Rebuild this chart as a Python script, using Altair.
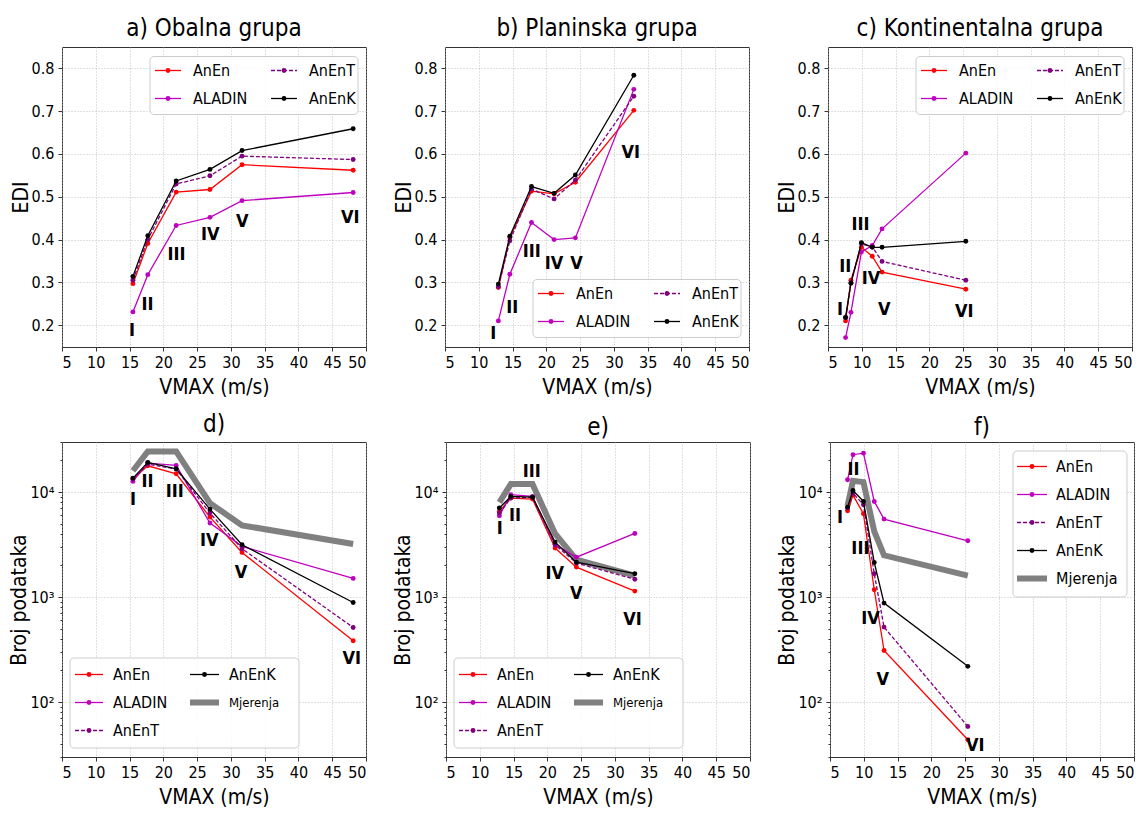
import altair as alt
import pandas as pd

FONT = "DejaVu Sans Condensed, Liberation Sans Narrow, DejaVu Sans"

roman = ["I", "II", "III", "IV", "V", "VI"]

vmax_obalna = [15.5, 17.7, 21.9, 26.9, 31.65, 48.1]
vmax_planinska = [12.9, 14.6, 17.8, 21.15, 24.3, 32.95]
vmax_kontinentalna = [7.6, 8.4, 9.95, 11.55, 13.0, 25.4]

edi_obalna = {
    "AnEn": [0.297, 0.391, 0.511, 0.517, 0.575, 0.562],
    "ALADIN": [0.231, 0.318, 0.433, 0.452, 0.491, 0.510],
    "AnEnT": [0.305, 0.400, 0.530, 0.549, 0.595, 0.587],
    "AnEnK": [0.314, 0.409, 0.537, 0.564, 0.608, 0.659],
}
edi_planinska = {
    "AnEn": [0.288, 0.405, 0.513, 0.507, 0.534, 0.702],
    "ALADIN": [0.210, 0.319, 0.440, 0.400, 0.404, 0.751],
    "AnEnT": [0.290, 0.397, 0.518, 0.495, 0.539, 0.735],
    "AnEnK": [0.296, 0.408, 0.524, 0.508, 0.551, 0.784],
}
edi_kontinentalna = {
    "AnEn": [0.210, 0.305, 0.382, 0.361, 0.324, 0.284],
    "ALADIN": [0.171, 0.230, 0.371, 0.386, 0.425, 0.602],
    "AnEnT": [0.218, 0.300, 0.390, 0.383, 0.349, 0.305],
    "AnEnK": [0.218, 0.298, 0.393, 0.382, 0.382, 0.396],
}

broj_obalna = {
    "Mjerenja": [15960, 24400, 24400, 7850, 4820, 3200],
    "AnEn": [13300, 17800, 14950, 5780, 2660, 384],
    "ALADIN": [12640, 18900, 17950, 5070, 3040, 1507],
    "AnEnT": [13300, 18500, 16560, 6310, 2890, 514],
    "AnEnK": [13600, 19200, 16680, 6890, 3150, 889],
}
broj_planinska = {
    "Mjerenja": [7980, 11920, 11920, 4010, 2270, 1600],
    "AnEn": [6550, 8770, 8580, 2930, 1930, 1140],
    "ALADIN": [5960, 9440, 9100, 3150, 2400, 4040],
    "AnEnT": [6310, 8770, 8920, 3150, 2110, 1480],
    "AnEnK": [7050, 9100, 8960, 3340, 2150, 1670],
}
broj_kontinentalna = {
    "Mjerenja": [7410, 12820, 12450, 4220, 2500, 1600],
    "AnEn": [6640, 9360, 6220, 1175, 310, 43.8],
    "ALADIN": [13100, 22700, 23500, 8150, 5530, 3440],
    "AnEnT": [7050, 9780, 7570, 1670, 518, 58.6],
    "AnEnK": [7200, 10370, 8150, 2140, 877, 219],
}

# positions of the roman-numeral labels (data coordinates)
ann_a = ([15.36, 17.67, 21.96, 26.95, 31.7, 47.67], [0.187, 0.248, 0.365, 0.410, 0.440, 0.450])
ann_b = ([12.16, 14.97, 17.83, 21.13, 24.48, 32.51], [0.179, 0.241, 0.370, 0.344, 0.344, 0.603])
ann_c = ([6.79, 7.57, 9.8, 11.38, 13.34, 25.18], [0.235, 0.335, 0.435, 0.308, 0.235, 0.230])
ann_d = ([15.5, 17.66, 21.7, 26.8, 31.5, 47.9], [8500, 12600, 10100, 3440, 1710, 257])
ann_e = ([12.96, 15.2, 17.7, 21.1, 24.3, 32.6], [4450, 5940, 15700, 1670, 1075, 608])
ann_f = ([6.5, 8.47, 9.5, 11.0, 12.8, 26.5], [5650, 16300, 2880, 617, 161, 38])

COL = {"AnEn": "#ff0000", "ALADIN": "#bf00bf", "AnEnT": "#800080",
       "AnEnK": "#000000", "Mjerenja": "#808080"}

W = 304
one = pd.DataFrame({"k": [0]})


def line_style(s):
    if s == "Mjerenja":
        return dict(color=COL[s], strokeWidth=6)
    kw = dict(color=COL[s], strokeWidth=1.3)
    if s == "AnEnT":
        kw["strokeDash"] = [4, 2]
    return kw


def legend_layers(frame, entries):
    x1, y1, x2, y2 = frame
    L = [alt.Chart(one).mark_rect(fill="white", fillOpacity=0.85, stroke="#cccccc",
                                  strokeWidth=1, cornerRadius=4)
         .encode(x=alt.value(x1), x2=alt.value(x2), y=alt.value(y1), y2=alt.value(y2))]
    for s, lx1, lx2, ly, tx, fs in entries:
        L.append(alt.Chart(one).mark_rule(**line_style(s))
                 .encode(x=alt.value(lx1), x2=alt.value(lx2), y=alt.value(ly)))
        if s != "Mjerenja":
            L.append(alt.Chart(one).mark_point(filled=True, color=COL[s], size=24, opacity=1)
                     .encode(x=alt.value((lx1 + lx2) / 2), y=alt.value(ly)))
        L.append(alt.Chart(one).mark_text(align="left", baseline="middle", font=FONT,
                                          fontSize=fs, color="black")
                 .encode(x=alt.value(tx), y=alt.value(ly), text=alt.value(s)))
    return L


def panel(vmax, vals, ann, title, log, legend, height, toff):
    recs = []
    for s, v in vals.items():
        for i, (xv, yv) in enumerate(zip(vmax, v)):
            recs.append({"serija": s, "vmax": xv, "val": yv, "i": i})
    df = pd.DataFrame(recs)
    xenc = alt.X("vmax:Q", scale=alt.Scale(domain=[5, 50], nice=False, zero=False),
                 axis=alt.Axis(values=list(range(5, 51, 5)), title="VMAX (m/s)"))
    if log:
        major = [100, 1000, 10000]
        minor = [30, 40, 50, 60, 70, 80, 90] + [200, 300, 400, 500, 600, 700, 800, 900] + \
                [2000, 3000, 4000, 5000, 6000, 7000, 8000, 9000] + [20000, 30000]
        test = "datum.value == 100 || datum.value == 1000 || datum.value == 10000"
        yenc = alt.Y("val:Q", scale=alt.Scale(type="log", domain=[30, 30000], nice=False),
                     axis=alt.Axis(values=sorted(major + minor), title="Broj podataka",
                                   labelExpr="datum.value == 100 ? '10²' : datum.value == 1000 ? '10³' : datum.value == 10000 ? '10⁴' : ''",
                                   gridOpacity={"condition": {"test": test, "value": 1}, "value": 0},
                                   tickSize={"condition": {"test": test, "value": 4}, "value": 2}))
    else:
        yenc = alt.Y("val:Q", scale=alt.Scale(domain=[0.149, 0.85], nice=False, zero=False),
                     axis=alt.Axis(values=[0.2, 0.3, 0.4, 0.5, 0.6, 0.7, 0.8], format=".1f",
                                   title="EDI"))
    layers = []
    for s in vals:
        sub = alt.Chart(df).transform_filter(alt.datum.serija == s)
        layers.append(sub.mark_line(**line_style(s)).encode(x=xenc, y=yenc, order="i:Q"))
        if s != "Mjerenja":
            layers.append(sub.mark_point(filled=True, color=COL[s], size=24, opacity=1)
                          .encode(x=xenc, y=yenc))
    ann_df = pd.DataFrame({"vmax": ann[0], "val": ann[1], "t": roman})
    layers.append(alt.Chart(ann_df).mark_text(font=FONT, fontSize=18, fontWeight="bold",
                                              color="black")
                  .encode(x=xenc, y=yenc, text="t:N"))
    layers += legend_layers(*legend)
    return alt.layer(*layers).properties(width=W, height=height,
                                         title=alt.TitleParams(title, offset=toff))


def top_legend(fy):
    return ((88, fy, 296, fy + 58),
            [("AnEn", 93, 119, fy + 14, 131, 16),
             ("ALADIN", 93, 119, fy + 42, 131, 16),
             ("AnEnT", 209, 235, fy + 14, 247, 16),
             ("AnEnK", 209, 235, fy + 42, 247, 16)])


bottom_legend = ((8, 216, 237, 306),
                 [("AnEn", 13, 41, 232.5, 51, 16),
                  ("ALADIN", 13, 41, 260.5, 51, 16),
                  ("AnEnT", 13, 41, 288.5, 51, 16),
                  ("AnEnK", 128, 157, 232.5, 167, 16),
                  ("Mjerenja", 128, 157, 260.5, 167, 13)])

f_legend = ((183, 9, 297, 155),
            [("AnEn", 187, 217, 24.5, 226, 16),
             ("ALADIN", 187, 217, 52.5, 226, 16),
             ("AnEnT", 187, 217, 80.5, 226, 16),
             ("AnEnK", 187, 217, 108.5, 226, 16),
             ("Mjerenja", 187, 217, 136.5, 226, 16)])

pa = panel(vmax_obalna, edi_obalna, ann_a, "a) Obalna grupa", False, top_legend(9.5), 300, 6)
pb = panel(vmax_planinska, edi_planinska, ann_b, "b) Planinska grupa", False, top_legend(232.5), 300, 6)
pc = panel(vmax_kontinentalna, edi_kontinentalna, ann_c, "c) Kontinentalna grupa", False, top_legend(9.5), 300, 6)
pd_ = panel(vmax_obalna, broj_obalna, ann_d, "d)", True, bottom_legend, 315, 2)
pe = panel(vmax_planinska, broj_planinska, ann_e, "e)", True, bottom_legend, 315, 2)
pf = panel(vmax_kontinentalna, broj_kontinentalna, ann_f, "f)", True, f_legend, 315, 2)

top = alt.hconcat(pa, pb, pc, spacing=25).resolve_scale(x="independent", y="independent")
bottom = alt.hconcat(pd_, pe, pf, spacing=25).resolve_scale(x="independent", y="independent")

chart = (alt.vconcat(top, bottom, spacing=14)
         .resolve_scale(x="independent", y="independent")
         .properties(padding={"left": 0, "top": 8, "right": 0, "bottom": 0})
         .configure(background="white")
         .configure_axis(labelFont=FONT, titleFont=FONT, labelFontSize=16, titleFontSize=21,
                         titleFontWeight="normal", labelColor="black", titleColor="black",
                         tickColor="#333333", tickSize=4, labelPadding=3, titlePadding=6,
                         domain=False, gridColor="#b0b0b0", gridDash=[1, 2], gridWidth=0.8)
         .configure_axisY(labelPadding=4, titlePadding=0)
         .configure_view(stroke="#333333", strokeWidth=1)
         .configure_title(font=FONT, fontSize=24, fontWeight="normal", color="black",
                          anchor="middle"))

chart.save("out.html", embed_options={"renderer": "svg", "actions": False})
